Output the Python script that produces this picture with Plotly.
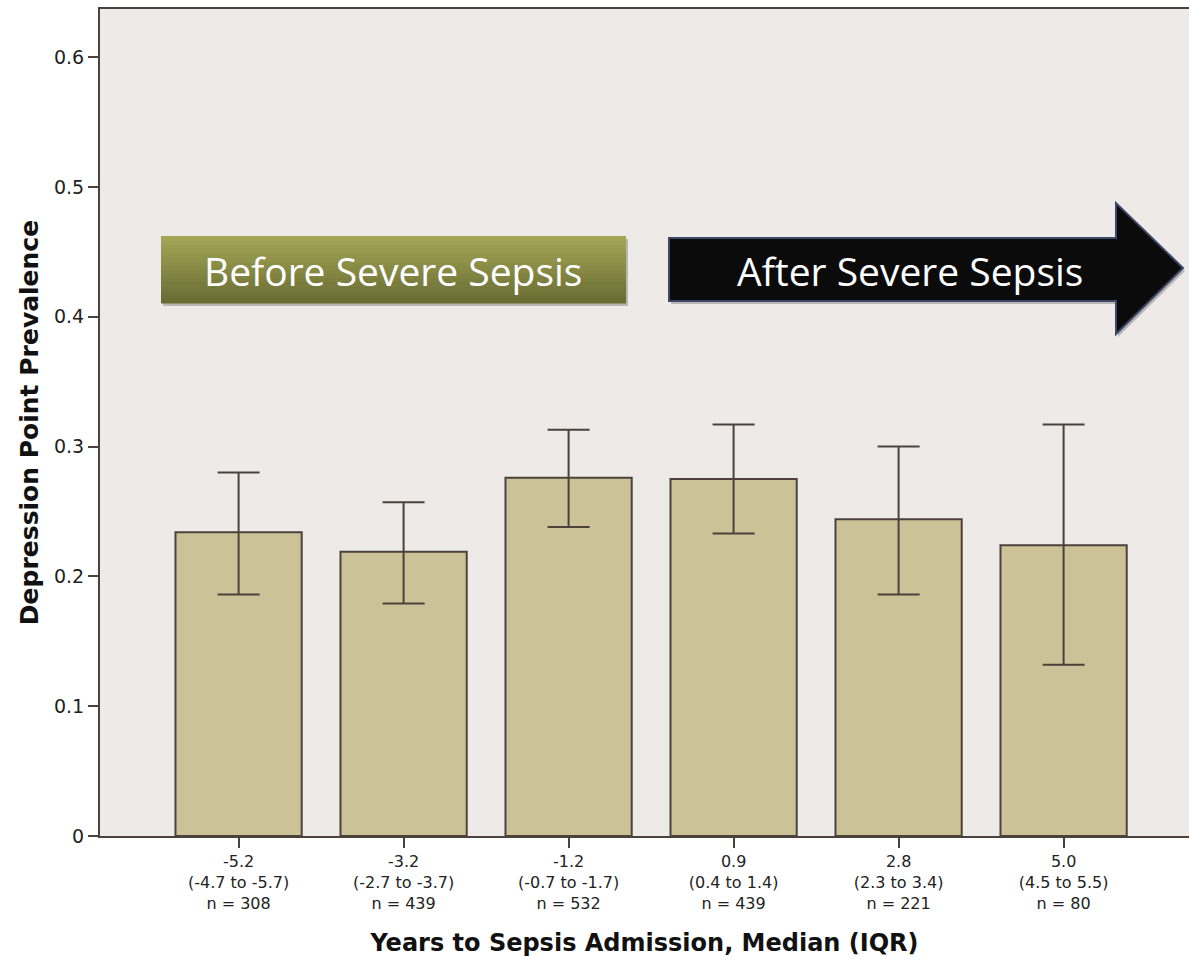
import plotly.graph_objects as go

# ---- data ----
median_years = ["-5.2", "-3.2", "-1.2", "0.9", "2.8", "5.0"]
iqr_labels = ["(-4.7 to -5.7)", "(-2.7 to -3.7)", "(-0.7 to -1.7)",
              "(0.4 to 1.4)", "(2.3 to 3.4)", "(4.5 to 5.5)"]
n_labels = ["n = 308", "n = 439", "n = 532", "n = 439", "n = 221", "n = 80"]
prevalence = [0.234, 0.219, 0.276, 0.275, 0.244, 0.224]
ci_upper = [0.280, 0.257, 0.313, 0.317, 0.300, 0.317]
ci_lower = [0.186, 0.179, 0.238, 0.233, 0.186, 0.132]
y_ticks = [0, 0.1, 0.2, 0.3, 0.4, 0.5, 0.6]
y_tick_text = ["0", "0.1", "0.2", "0.3", "0.4", "0.5", "0.6"]

categories = [f"{m}<br>{i}<br>{n}" for m, i, n in zip(median_years, iqr_labels, n_labels)]
x_pos = list(range(len(categories)))
err_plus = [u - p for u, p in zip(ci_upper, prevalence)]
err_minus = [p - l for p, l in zip(prevalence, ci_lower)]

W, H = 1189, 967
ML, MR, MT, MB = 100, 0, 9, 131
PW, PH = W - ML - MR, H - MT - MB
DARK = "#4B423C"

def px(x):
    return (x - ML) / PW

def py(y):
    return (H - MB - y) / PH

fig = go.Figure()
fig.add_trace(go.Bar(
    x=x_pos, y=prevalence, width=0.765,
    marker=dict(color="#CCC298", line=dict(color=DARK, width=2)),
    error_y=dict(type="data", symmetric=False, array=err_plus, arrayminus=err_minus,
                 color=DARK, thickness=2, width=21),
    showlegend=False,
))

shapes = []
# "Before" box: shadow + vertical gradient strips
x0, x1, y0, y1 = 161, 626, 236, 303
shapes.append(dict(type="rect", xref="paper", yref="paper", x0=px(x0 + 2), x1=px(x1 + 2),
                   y0=py(y1 + 3), y1=py(y0 + 3), fillcolor="rgba(120,120,120,0.45)", line_width=0, layer="above"))
top_c, bot_c = (163, 166, 84), (106, 108, 52)
n_strips = 16
for k in range(n_strips):
    t = k / (n_strips - 1)
    c = tuple(round(a + (b - a) * t) for a, b in zip(top_c, bot_c))
    ya = y0 + (y1 - y0) * k / n_strips
    yb = y0 + (y1 - y0) * (k + 1) / n_strips
    shapes.append(dict(type="rect", xref="paper", yref="paper", x0=px(x0), x1=px(x1),
                       y0=py(yb + 0.6), y1=py(ya), fillcolor=f"rgb{c}", line_width=0, layer="above"))

# "After" arrow
pts = [(669, 238), (1116, 238), (1116, 203), (1183, 268), (1116, 334), (1116, 301), (669, 301)]
def path_of(points, dx=0, dy=0):
    return "M " + " L ".join(f"{px(a + dx):.5f},{py(b + dy):.5f}" for a, b in points) + " Z"
shapes.append(dict(type="path", xref="paper", yref="paper", path=path_of(pts, 2, 3),
                   fillcolor="rgba(120,120,120,0.45)", line_width=0, layer="above"))
shapes.append(dict(type="path", xref="paper", yref="paper", path=path_of(pts),
                   fillcolor="#0B0B0B", line=dict(color="#3D4868", width=2), layer="above"))

annotations = [
    dict(xref="paper", yref="paper", x=px(393), y=py(270), text="Before Severe Sepsis",
         showarrow=False, font=dict(family="Open Sans", size=39, color="white"),
         xanchor="center", yanchor="middle"),
    dict(xref="paper", yref="paper", x=px(910), y=py(270), text="After Severe Sepsis",
         showarrow=False, font=dict(family="Open Sans", size=39, color="white"),
         xanchor="center", yanchor="middle"),
]

fig.update_layout(
    width=W, height=H,
    margin=dict(l=ML, r=MR, t=MT, b=MB),
    paper_bgcolor="white", plot_bgcolor="#EDEAE7",
    shapes=shapes, annotations=annotations,
    font=dict(family="DejaVu Sans", color="#222222"),
    xaxis=dict(
        range=[-0.84, 5.76], tickmode="array", tickvals=x_pos, ticktext=categories,
        tickfont=dict(family="DejaVu Sans", size=16, color="#222222"),
        ticks="outside", ticklen=10, tickwidth=2, tickcolor=DARK,
        showline=True, linecolor=DARK, linewidth=2, mirror=True,
        showgrid=False, zeroline=False,
        title=dict(text="Years to Sepsis Admission, Median (IQR)", standoff=22,
                   font=dict(family="DejaVu Sans", size=24, color="#111111", weight="bold")),
    ),
    yaxis=dict(
        range=[0, 0.637], tickmode="array", tickvals=y_ticks, ticktext=y_tick_text,
        tickfont=dict(family="DejaVu Sans", size=19, color="#222222"),
        ticks="outside", ticklen=10, tickwidth=2, tickcolor=DARK,
        showline=True, linecolor=DARK, linewidth=2, mirror=False,
        showgrid=False, zeroline=False,
        title=dict(text="Depression Point Prevalence", standoff=8,
                   font=dict(family="DejaVu Sans", size=25, color="#111111", weight="bold")),
    ),
)

fig.write_html("out.html", config={"displayModeBar": False},
               post_script="document.body.style.margin='0px';")
